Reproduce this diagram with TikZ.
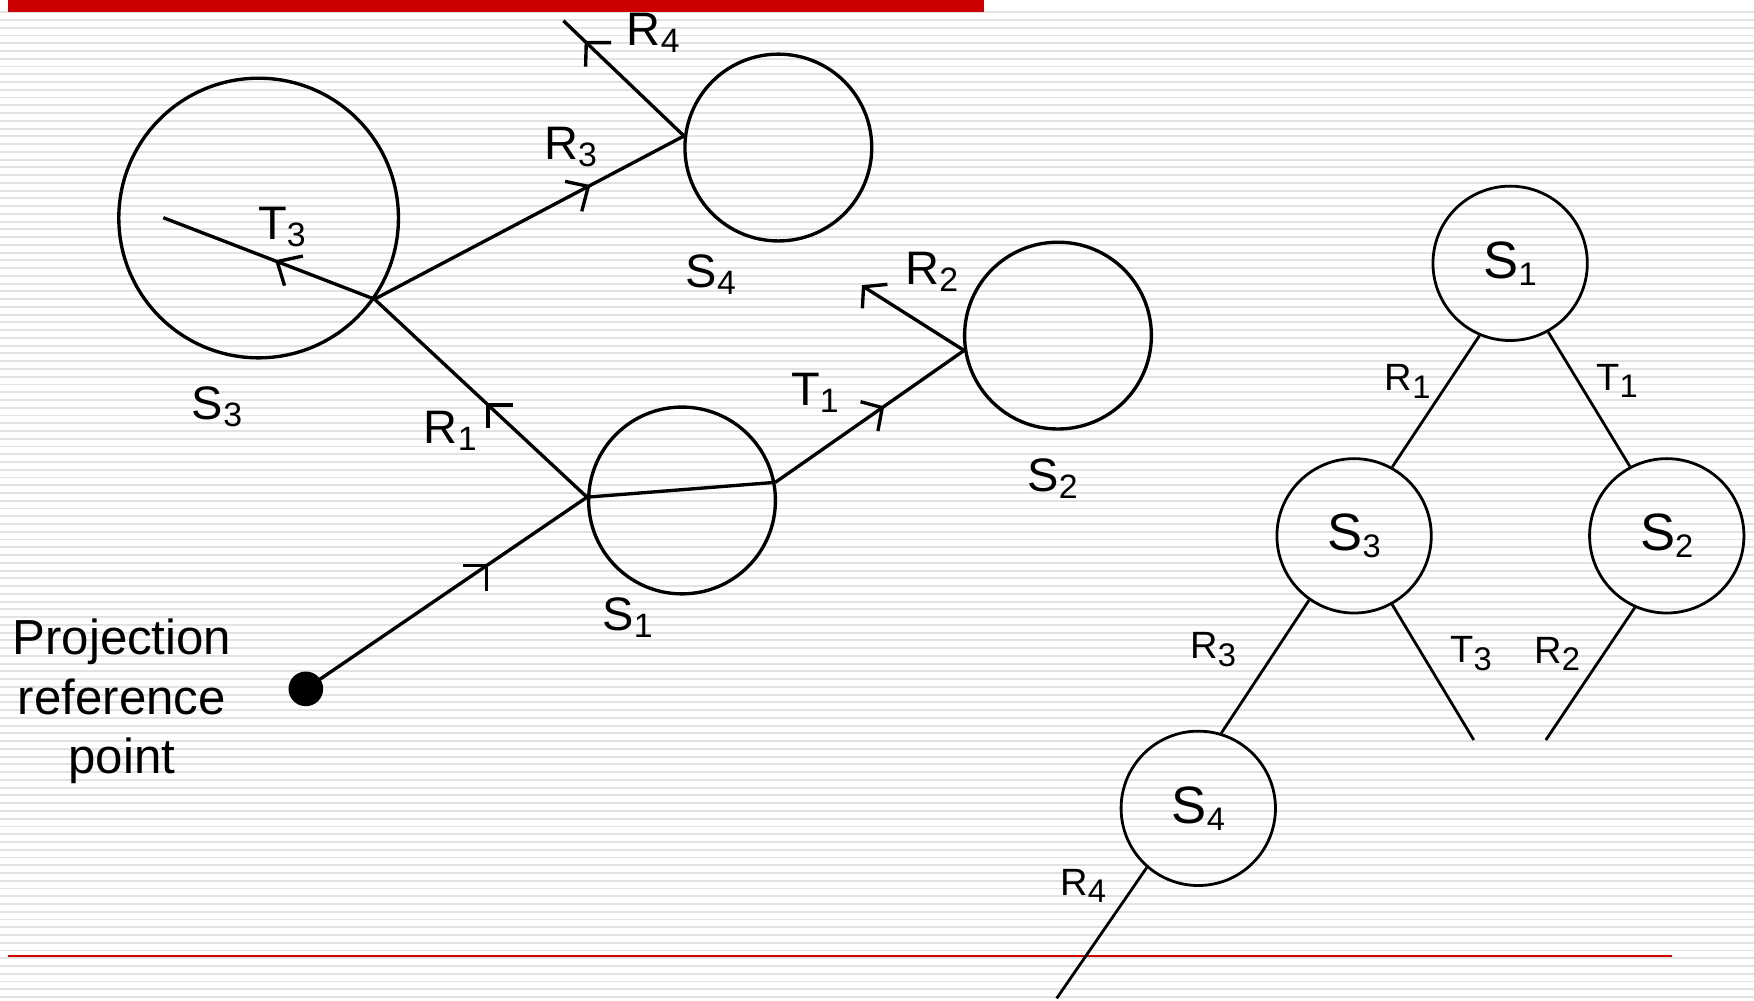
\documentclass[tikz,border=0pt]{standalone}
\usepackage{fontspec}
\setmainfont{Liberation Sans}
\usepackage{graphicx}
\usetikzlibrary{calc}
\definecolor{slidered}{HTML}{CC0000}
\definecolor{ruling}{RGB}{226,226,226}
% letter with a lowered, scaled index: {letter}{index}{scale}{drop in em}
\newcommand\idxlabel[4]{#1\raisebox{-#4em}{\scalebox{#3}{#2}}}
\newcommand\scn[2]{\idxlabel{#1}{#2}{0.72}{0.15}}
\newcommand\trn[2]{\idxlabel{#1}{#2}{0.62}{0.14}}
\newcommand\tre[2]{\idxlabel{#1}{#2}{0.86}{0.2}}
\tikzset{
  sphere/.style={circle, draw, line width=3pt, inner sep=0pt, minimum size=#1},
  ray/.style={line width=3pt},
  branch/.style={line width=2.5pt},
  treenode/.style={circle, draw, line width=2.5pt, inner sep=0pt, minimum size=138pt,
    font=\fontsize{47}{56}\selectfont},
  scenelabel/.style={inner sep=0pt, font=\fontsize{42}{50}\selectfont},
  edgelabel/.style={inner sep=0pt, font=\fontsize{34}{40}\selectfont},
}
\begin{document}
\begin{tikzpicture}[x=1pt, y=-1pt]
% page and ruled background
\fill[white] (0,0) rectangle (1568,894);
\useasboundingbox (0,0) rectangle (1568,894);
\foreach \k in {-1,...,126}
  \draw[ruling, line width=1.7pt] (0,{17.88+6.932*\k}) -- (1568,{17.88+6.932*\k});
\fill[slidered] (7.2,0) rectangle (880,10.7);
\draw[slidered, line width=2.5pt] (7.2,854.7) -- (1494.4,854.7);

% ---------- ray-tracing scene ----------
\node[sphere=250pt] (S3) at (231.2,194.9) {};
\node[sphere=167pt] (S4) at (695.8,131.9) {};
\node[sphere=167pt] (S1) at (609.7,447.4) {};
\node[sphere=167pt] (S2) at (945.8,300) {};
\node[circle, fill, inner sep=0pt, minimum size=31pt] (prp) at (273.4,615.8) {};

\coordinate (r2end) at (772,256.3);
\coordinate (r4end) at (503.6,18.5);
\coordinate (t3end) at (146,194.6);

\draw[ray] (prp.center) -- (S1.178.4);
\draw[ray] (S1.178.4) -- (S1.11.8);
\draw[ray] (S1.11.8) -- (S2.189.4);
\draw[ray] (S1.178.4) -- (S3.-35);
\draw[ray] (S2.189.4) -- (r2end);
\draw[ray] (S3.-35) -- (S4.173.2);
\draw[ray] (S4.173.2) -- (r4end);
\draw[ray] (S3.-35) -- (t3end);

% direction marks along the rays
\coordinate (m1) at ($(prp.center)!0.642!(S1.178.4)$);
\coordinate (m2) at ($(S1.178.4)!0.466!(S3.-35)$);
\coordinate (m3) at ($(S1.11.8)!0.5665!(S2.189.4)$);
\coordinate (m5) at ($(S3.-35)!0.691!(S4.173.2)$);
\coordinate (m6) at ($(S4.173.2)!0.81!(r4end)$);
\coordinate (m7) at ($(S3.-35)!0.461!(t3end)$);
\draw[ray] ($(m1)+(-20.9,0)$) -- (m1) -- ($(m1)+(0,22.4)$);
\draw[ray] ($(m2)+(22.4,0)$) -- (m2) -- ($(m2)+(0,20.9)$);
\draw[ray] ($(m3)+(-19.4,-5.3)$) -- (m3) -- ($(m3)+(-3.9,20.9)$);
\draw[ray] ($(r2end)+(21.3,-2.1)$) -- (r2end) -- ($(r2end)+(-1.1,19.3)$);
\draw[ray] ($(m5)+(-20.8,-4.5)$) -- (m5) -- ($(m5)+(-5.9,22.3)$);
\draw[ray] ($(m6)+(22.3,0)$) -- (m6) -- ($(m6)+(-0.6,21.5)$);
\draw[ray] ($(m7)+(23,-5)$) -- (m7) -- ($(m7)+(6.6,21.5)$);

% scene labels
\node[scenelabel] (lS3) at (194,364) {\scn{S}{3}};
\node[scenelabel] (lS4) at (635.5,245.5) {\scn{S}{4}};
\node[scenelabel] (lS1) at (561,552) {\scn{S}{1}};
\node[scenelabel] (lS2) at (941,428) {\scn{S}{2}};
\node[scenelabel] (lR4) at (584,29) {\scn{R}{4}};
\node[scenelabel] (lR3) at (510,131) {\scn{R}{3}};
\node[scenelabel] (lT3) at (252,203) {\scn{T}{3}};
\node[scenelabel] (lR2) at (833,243) {\scn{R}{2}};
\node[scenelabel] (lT1) at (728.6,351) {\scn{T}{1}};
\node[scenelabel] (lR1) at (402.5,385.4) {\scn{R}{1}};
\node[inner sep=0pt, align=center, font=\fontsize{44}{53}\selectfont] (prplabel) at (109,627)
  {Projection\\reference\\point};

% ---------- ray tree ----------
\node[treenode] (tS1) at (1350,235.4) {\trn{S}{1}};
\node[treenode] (tS3) at (1210.5,479) {\trn{S}{3}};
\node[treenode] (tS2) at (1490,479) {\trn{S}{2}};
\node[treenode] (tS4) at (1071.2,722.6) {\trn{S}{4}};
\coordinate (t3leaf) at (1317.5,661.5);
\coordinate (r2leaf) at (1381.9,661.5);
\coordinate (r4leaf) at (944.6,892.5);

\draw[branch] (tS1.247.8) -- (tS3.61.3);
\draw[branch] (tS1.-61.6) -- (tS2.118);
\draw[branch] (tS3.235.8) -- (tS4.73.7);
\draw[branch] (tS3.-61.3) -- (t3leaf);
\draw[branch] (tS2.246) -- (r2leaf);
\draw[branch] (tS4.229) -- (r4leaf);

\node[edgelabel] (eR1) at (1258.5,341) {\tre{R}{1}};
\node[edgelabel] (eT1) at (1445.5,340.5) {\tre{T}{1}};
\node[edgelabel] (eR3) at (1084.5,580.5) {\tre{R}{3}};
\node[edgelabel] (eT3) at (1315,584.5) {\tre{T}{3}};
\node[edgelabel] (eR2) at (1392,584.5) {\tre{R}{2}};
\node[edgelabel] (eR4) at (968.4,792) {\tre{R}{4}};
\end{tikzpicture}
\end{document}
